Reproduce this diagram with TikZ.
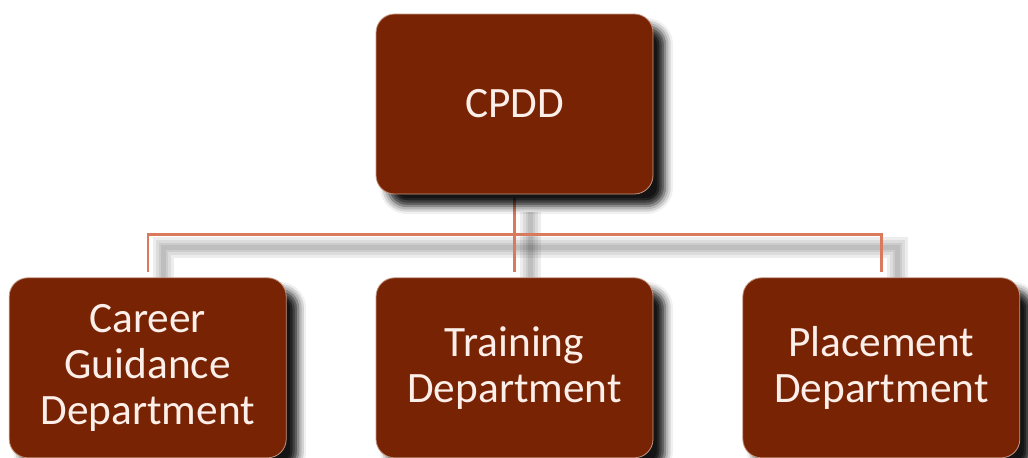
\documentclass[tikz,border=0pt]{standalone}
\usepackage{fontspec}
\setmainfont{Carlito}
\usetikzlibrary{positioning, shadows.blur, backgrounds}
\definecolor{boxbrown}{RGB}{120,36,4}
\definecolor{boxtext}{RGB}{252,238,232}
\definecolor{linksalmon}{RGB}{218,122,92}
\definecolor{boxedge}{RGB}{196,150,130}

\begin{document}
\begin{tikzpicture}[
    dept/.style={draw=boxedge, line width=0.6pt, fill=boxbrown, text=boxtext,
        rounded corners=14pt, minimum width=207.75pt, minimum height=135pt,
        align=center, font=\fontsize{32.5}{34.5}\selectfont,
        blur shadow={shadow xshift=9pt, shadow yshift=-9pt,
            shadow blur radius=6pt, shadow opacity=92}},
    link/.style={draw=linksalmon, line width=1.8pt},
    linkshade/.style={draw=black, opacity=0.07, line width=#1}]

\useasboundingbox (-385.9pt,-264.75pt) rectangle (385.1pt,78pt);

% Root box
\node[dept] (cpdd) {CPDD};

% Departments
\node[dept, below=62.25pt of cpdd] (training) {Training\\Department};
\node[dept, left=66.75pt of training] (career) {Career\\Guidance\\Department};
\node[dept, right=66.75pt of training] (placement) {Placement\\Department};

\coordinate (bus) at ([yshift=-30pt]cpdd.south);

% Connectors with their soft shade
\begin{scope}[on background layer]
    \foreach \w in {16pt, 11pt, 7pt, 4pt} {
        \draw[linkshade=\w, transform canvas={xshift=12pt, yshift=-10pt}]
            ([yshift=3pt]career.north) |- (bus) -| ([yshift=3pt]placement.north);
        \draw[linkshade=\w, transform canvas={xshift=12pt, yshift=-10pt}]
            ([yshift=-3pt]cpdd.south) -- ([yshift=3pt]training.north);
    }
    \draw[link] ([yshift=4pt]career.north) |- (bus) -| ([yshift=4pt]placement.north);
    \draw[link] ([yshift=-3pt]cpdd.south) -- ([yshift=4pt]training.north);
\end{scope}

\end{tikzpicture}
\end{document}
